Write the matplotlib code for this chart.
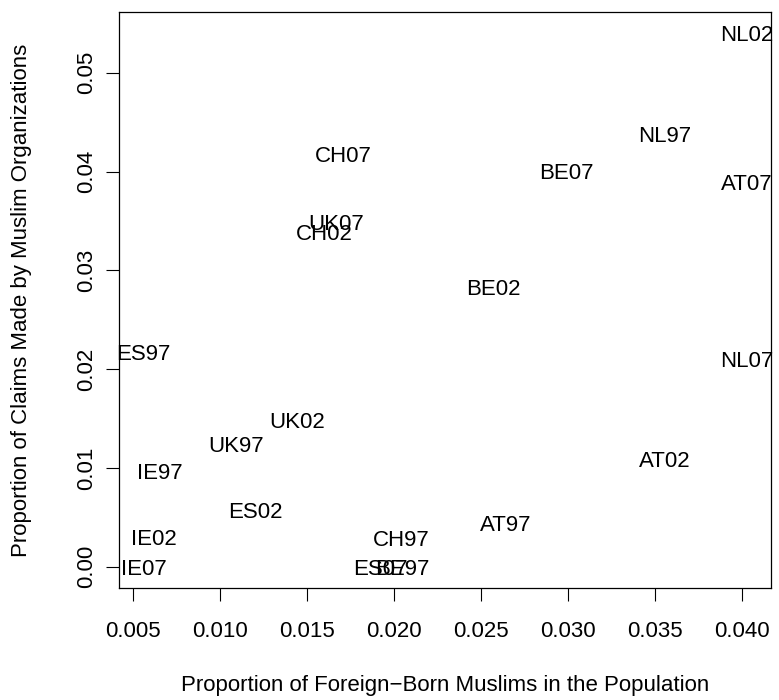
import matplotlib
matplotlib.use("Agg")
import matplotlib.pyplot as plt
import numpy as np

labels = ["NL02", "AT07", "NL07", "NL97", "BE07", "CH07", "UK07", "CH02", "BE02",
          "ES97", "UK02", "UK97", "IE97", "AT02", "ES02", "AT97", "IE02", "CH97",
          "IE07", "ES07", "BE97"]
muslim_pop = [0.0403, 0.0403, 0.0403, 0.0356, 0.0299, 0.0171, 0.0167, 0.0160, 0.0257,
              0.00557, 0.0144, 0.0109, 0.00655, 0.0356, 0.0120, 0.0264, 0.00621, 0.0204,
              0.00563, 0.0192, 0.0205]
muslim_claims = [0.0540, 0.0389, 0.0210, 0.0438, 0.0401, 0.0418, 0.0349, 0.0339, 0.0283,
                 0.0217, 0.0149, 0.0124, 0.0097, 0.0109, 0.0057, 0.0044, 0.0030, 0.0029,
                 0.0, 0.0, 0.0]
xticks = [0.005, 0.010, 0.015, 0.020, 0.025, 0.030, 0.035, 0.040]
xticklabels = ["0.005", "0.010", "0.015", "0.020", "0.025", "0.030", "0.035", "0.040"]
yticks = [0.00, 0.01, 0.02, 0.03, 0.04, 0.05]
yticklabels = ["0.00", "0.01", "0.02", "0.03", "0.04", "0.05"]

plt.rcParams['font.family'] = ['Liberation Sans', 'DejaVu Sans']
FS = 16

W, H = 779, 700
fig = plt.figure(figsize=(W / 100, H / 100), dpi=100)
left, right, top, bottom = 119, 771, 12, 588
ax = fig.add_axes([left / W, 1 - bottom / H, (right - left) / W, (bottom - top) / H])

x = np.array(muslim_pop)
y = np.array(muslim_claims)
xr = x.max() - x.min()
yr = y.max() - y.min()
ax.set_xlim(x.min() - 0.04 * xr, x.max() + 0.04 * xr)
ax.set_ylim(y.min() - 0.04 * yr, y.max() + 0.04 * yr)

for lab, xi, yi in zip(labels, x, y):
    ax.text(xi, yi, lab, ha="center", va="center_baseline", fontsize=FS,
            color="black", clip_on=False)

ax.set_xticks(xticks)
ax.set_xticklabels(xticklabels)
ax.set_yticks(yticks)
ax.set_yticklabels(yticklabels, rotation=90, va="center")
ax.tick_params(axis="both", direction="out", length=9.5, width=0.8, labelsize=FS,
               color="black")
ax.tick_params(axis="x", pad=14)
ax.tick_params(axis="y", pad=6)
for s in ax.spines.values():
    s.set_linewidth(0.9)
    s.set_color("black")

fig.text((left + right) / 2 / W, 1 - 686 / H,
         "Proportion of Foreign\u2212Born Muslims in the Population",
         ha="center", va="center", fontsize=FS)
fig.text(22 / W, 1 - 300 / H, "Proportion of Claims Made by Muslim Organizations",
         ha="center", va="center", rotation=90, fontsize=FS)

fig.savefig("out.png", dpi=100)
